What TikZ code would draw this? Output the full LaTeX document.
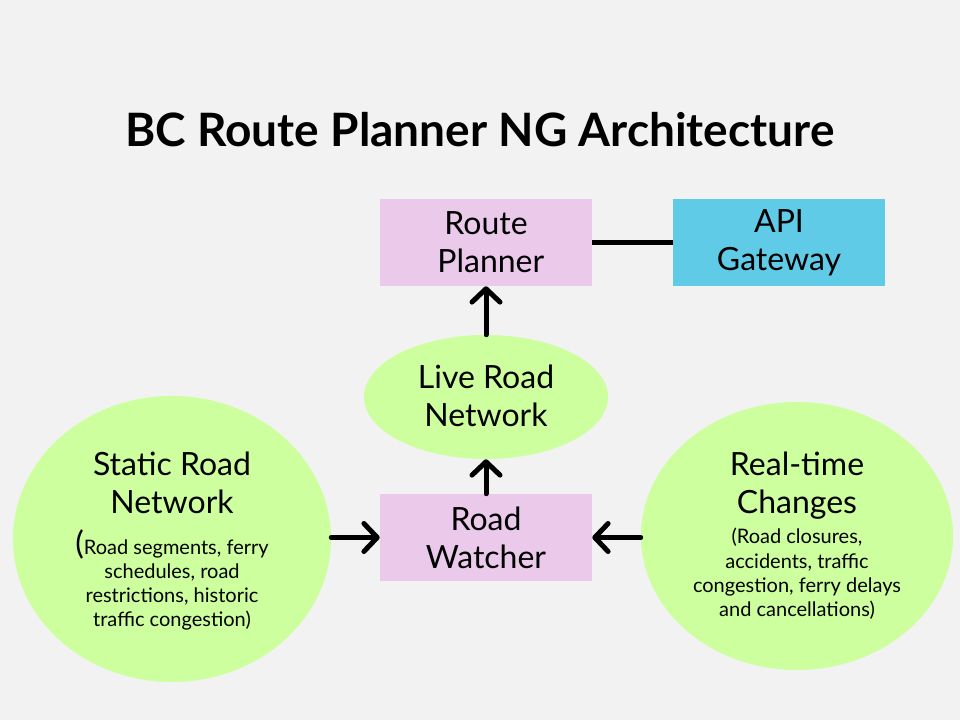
\documentclass[tikz,border=0pt]{standalone}
\usepackage{fontspec}
\setmainfont{Lato}
\usetikzlibrary{arrows.meta,shapes.geometric}
\definecolor{bgc}{RGB}{242,242,242}
\definecolor{pinkbox}{RGB}{235,201,235}
\definecolor{bluebox}{RGB}{96,203,230}
\definecolor{greenell}{RGB}{206,255,158}
\begin{document}
\begin{tikzpicture}[x=0.75pt,y=-0.75pt,
  box/.style={rectangle, minimum width=159pt, minimum height=65.25pt, inner sep=0pt, align=center, font=\fontsize{24}{28.5}\selectfont},
  ell/.style={ellipse, fill=greenell, inner sep=0pt},
  big/.style={align=center, inner sep=0pt, font=\fontsize{24}{28.5}\selectfont},
  small/.style={align=center, inner sep=0pt, font=\fontsize{15}{18.2}\selectfont},
  arr/.style={line width=3.75pt, line cap=round, -{Straight Barb[length=10pt,width=21pt,line cap=round,line join=round]}},
  link/.style={line width=3.75pt}]
\fill[bgc] (0,0) rectangle (960,720);
\useasboundingbox (0,0) rectangle (960,720);

\node[inner sep=0pt, font=\fontsize{34.5}{40}\selectfont\bfseries] (title) at (480,130) {BC Route Planner NG Architecture};

\node[box, fill=pinkbox] (rp) at (486,242.5) {Route\\\hspace*{0.3em}Planner};
\node[box, fill=bluebox] (api) at (779,242.5) {API\\Gateway};
\node[ell, minimum width=183pt, minimum height=93pt] (live) at (486,397) {};
\node[big] (livet) at (486,396) {Live Road\\Network};
\node[box, fill=pinkbox] (rw) at (486,537.5) {Road\\Watcher};

\node[ell, minimum width=238.5pt, minimum height=214.5pt] (static) at (172,539) {};
\node[big] (statict) at (172,483) {Static Road\\Network};
\node[small] (staticd) at (172,580) {{\fontsize{24}{18.2}\selectfont(}Road segments, ferry\\schedules, road\\restrictions, historic\\traffic congestion)};

\node[ell, minimum width=234pt, minimum height=201pt] (real) at (797,536) {};
\node[big] (realt) at (797,486) {Real-time\\Changes};
\node[small] (reald) at (797,574) {(Road closures,\\accidents, traffic\\congestion, ferry delays\\and cancellations)};

\draw[link] (rp.east) -- (api.west);
\draw[arr] (live.north) -- (rp.south);
\draw[arr] (rw.north) -- (live.south);
\draw[arr] (rw.west -| static.east) -- (rw.west);
\draw[arr] (rw.east -| real.west) -- (rw.east);
\end{tikzpicture}
\end{document}
